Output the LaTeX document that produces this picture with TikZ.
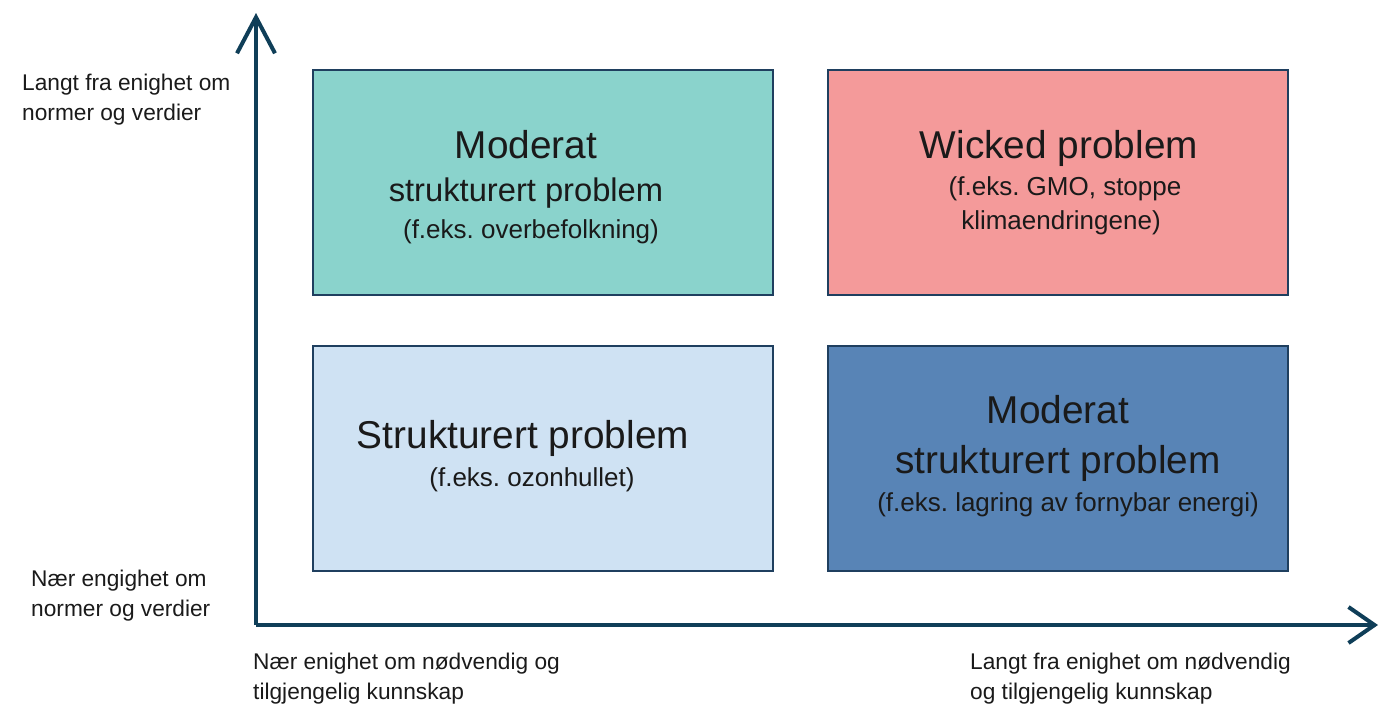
\documentclass[tikz,border=0pt]{standalone}
\usepackage{fontspec}
\setmainfont{Liberation Sans}
\usetikzlibrary{arrows.meta}
\definecolor{axisblue}{HTML}{0F3E58}
\definecolor{edgeblue}{HTML}{1F3F5F}
\definecolor{tealfill}{HTML}{8AD3CC}
\definecolor{pinkfill}{HTML}{F49A9A}
\definecolor{paleblue}{HTML}{CFE2F3}
\definecolor{midblue}{HTML}{5884B6}
\definecolor{txt}{HTML}{1A1A1A}
\newcommand{\titlesize}{\fontsize{38.8}{40}\selectfont}
\newcommand{\midsize}{\fontsize{32.7}{40}\selectfont}
\newcommand{\notesize}{\fontsize{26}{40}\selectfont}
\newcommand{\axfont}{\fontsize{22.7}{30}\selectfont}
\frenchspacing

\begin{document}
\begin{tikzpicture}[x=1pt,y=-1pt,
    quad/.style={rectangle, draw=edgeblue, line width=1.5pt, minimum width=460pt,
                 minimum height=225pt, inner sep=0pt},
    quadtext/.style={inner sep=0pt, align=center, text=txt, font=\notesize},
    axlabel/.style={inner sep=0pt, align=left, anchor=west, text=txt, font=\axfont},
    axis/.style={axisblue, line width=4pt}]
%
    \useasboundingbox (0,0) rectangle (1379,705);

         \node [quad, fill=tealfill] (modtop)  at (543,182.5)  {};
         \node [quad, fill=pinkfill] (wicked)  at (1058,182.5) {};
         \node [quad, fill=paleblue] (struct)  at (543,458.5)  {};
         \node [quad, fill=midblue]  (modlow)  at (1058,458.5) {};

         \node [quadtext] (modtoptxt) at ([xshift=-17pt,yshift=-4.5pt]modtop.center)
               {\titlesize Moderat\\[3pt] \midsize strukturert problem\\[-3pt] \notesize\hspace*{10pt}(f.eks. overbefolkning)};
         \node [quadtext] (wickedtxt) at ([xshift=3pt]wicked.center)
               {\titlesize Wicked problem\hspace*{4pt}\\[-3pt] \notesize\hspace*{8pt}(f.eks. GMO, stoppe\\[-6pt] \notesize klimaendringene)};
         \node [quadtext] (structtxt) at ([xshift=-20pt,yshift=2pt]struct.center)
               {\titlesize Strukturert problem\\[-2pt] \notesize\hspace*{18pt}(f.eks. ozonhullet)};
         \node [quadtext] (modlowtxt) at ([xshift=0pt,yshift=2pt]modlow.center)
               {\titlesize Moderat\\[10pt] \titlesize strukturert problem\hspace*{6pt}\\[-2pt] \notesize\hspace*{20pt}(f.eks. lagring av fornybar energi)};

         \coordinate (O)    at (256,625);
         \coordinate (ytop) at (256,13);
         \coordinate (xend) at (1378,625);

         \draw [axis, -{Straight Barb[length=36pt,width=38pt]}] (O) -- (ytop);
         \draw [axis, -{Straight Barb[length=26pt,width=36pt]}] (O) -- (xend);

         \node [axlabel] (yhigh) at (22,100)  {Langt fra enighet om\\normer og verdier};
         \node [axlabel] (ylow)  at (31,596) {Nær engighet om\\normer og verdier};
         \node [axlabel] (xlow)  at (253,679) {Nær enighet om nødvendig og\\tilgjengelig kunnskap};
         \node [axlabel] (xhigh) at (970,679) {Langt fra enighet om nødvendig\\og tilgjengelig kunnskap};

\end{tikzpicture}
\end{document}
